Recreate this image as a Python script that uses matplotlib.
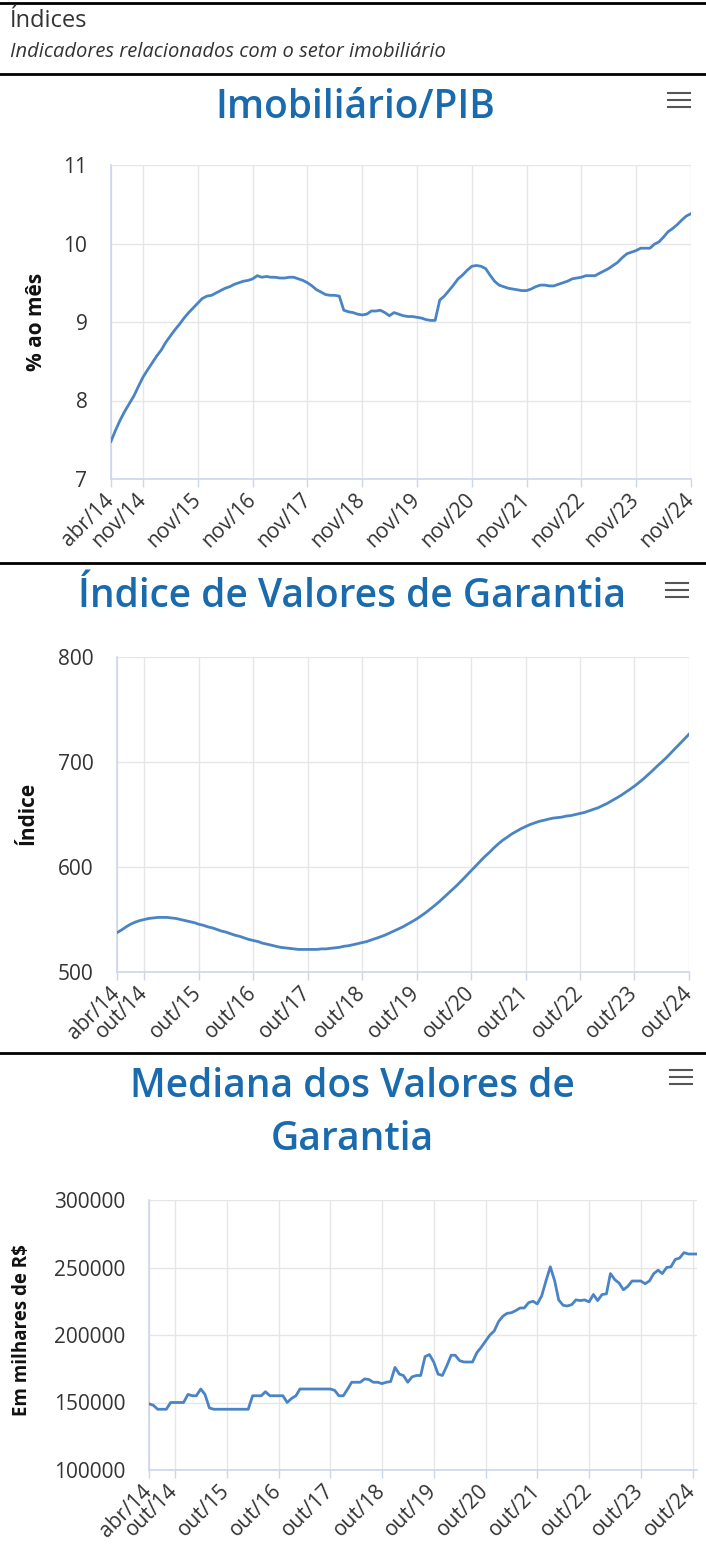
import matplotlib
matplotlib.use('Agg')
import matplotlib.pyplot as plt
import pandas as pd
from matplotlib.lines import Line2D

W, H = 706, 1545

# Imobiliario/PIB, monthly abr/14 .. nov/24
pib_values = [
    7.48, 7.62, 7.75, 7.86, 7.96, 8.06, 8.18, 8.30, 8.39, 8.48, 8.57, 8.64,
    8.74, 8.82, 8.90, 8.97, 9.05, 9.12, 9.18, 9.24, 9.30, 9.33, 9.34, 9.37,
    9.40, 9.43, 9.45, 9.48, 9.50, 9.52, 9.53, 9.55, 9.59, 9.57, 9.58, 9.57,
    9.57, 9.56, 9.56, 9.57, 9.57, 9.55, 9.53, 9.50, 9.46, 9.41, 9.38, 9.35,
    9.34, 9.34, 9.33, 9.15, 9.13, 9.12, 9.10, 9.09, 9.10, 9.14, 9.14, 9.15,
    9.12, 9.08, 9.12, 9.10, 9.08, 9.07, 9.07, 9.06, 9.05, 9.03, 9.02, 9.02,
    9.28, 9.33, 9.40, 9.47, 9.55, 9.60, 9.66, 9.71, 9.72, 9.71, 9.68, 9.60,
    9.52, 9.47, 9.45, 9.43, 9.42, 9.41, 9.40, 9.40, 9.42, 9.45, 9.47, 9.47,
    9.46, 9.46, 9.48, 9.50, 9.52, 9.55, 9.56, 9.57, 9.59, 9.59, 9.59, 9.62,
    9.65, 9.68, 9.72, 9.76, 9.82, 9.87, 9.89, 9.91, 9.94, 9.94, 9.94, 9.99,
    10.02, 10.08, 10.15, 10.19, 10.24, 10.30, 10.35, 10.38,
]
pib_ticks = ['abr/14', 'nov/14', 'nov/15', 'nov/16', 'nov/17', 'nov/18', 'nov/19',
             'nov/20', 'nov/21', 'nov/22', 'nov/23', 'nov/24']
pib_yticks = [7, 8, 9, 10, 11]

# Indice de Valores de Garantia, monthly abr/14 .. out/24
ivg_values = [
    537.5, 540, 543, 545.5, 547.5, 549, 550, 551, 551.5, 552, 552, 552,
    551.5, 551, 550, 549, 548, 547, 545.5, 544.5, 543, 542, 540.5, 539,
    538, 536.5, 535, 534, 532.5, 531, 530, 529, 527.5, 526.5, 525.5, 524.5,
    523.5, 523, 522.5, 522, 521.5, 521.5, 521.5, 521.5, 521.5, 522, 522, 522.5,
    523, 523.5, 524.5, 525, 526, 527, 528, 529, 530.5, 532, 533.5, 535,
    537, 539, 541, 543, 545.5, 548, 550.5, 553.5, 556.5, 560, 563.5, 567,
    571, 575, 579, 583, 587.5, 592, 596.5, 601, 605.5, 610, 614, 618,
    622, 625.5, 628.5, 631.5, 634, 636.5, 638.5, 640.5, 642, 643.5, 644.5, 645.5,
    646.5, 647, 647.5, 648.5, 649, 650, 651, 652, 653.5, 655, 656.5, 658.5,
    660.5, 663, 665.5, 668, 671, 674, 677, 680.5, 684, 688, 692, 696,
    700, 704, 708.5, 713, 717.5, 722, 726.5,
]
ivg_ticks = ['abr/14', 'out/14', 'out/15', 'out/16', 'out/17', 'out/18', 'out/19',
             'out/20', 'out/21', 'out/22', 'out/23', 'out/24']
ivg_yticks = [500, 600, 700, 800]

# Mediana dos Valores de Garantia, monthly abr/14 .. nov/24
mvg_values = [
    149000, 148000, 145000, 145000, 145000, 150000, 150000, 150000, 150000, 156000, 155000, 155000,
    160000, 156000, 146000, 145000, 145000, 145000, 145000, 145000, 145000, 145000, 145000, 145000,
    155000, 155000, 155000, 158000, 155000, 155000, 155000, 155000, 150000, 153000, 155000, 160000,
    160000, 160000, 160000, 160000, 160000, 160000, 160000, 159000, 155000, 155000, 160000, 165000,
    165000, 165000, 167500, 167000, 165000, 165000, 164000, 165000, 165500, 176000, 171000, 170000,
    165000, 169000, 170000, 170000, 184000, 185500, 180000, 171000, 170000, 177000, 185000, 185000,
    181000, 180000, 180000, 180000, 187000, 191000, 195500, 200000, 203000, 210000, 214000, 216000,
    216500, 218000, 220000, 220000, 224000, 225000, 223000, 229000, 240000, 250500, 240000, 226000,
    222000, 221500, 222500, 226000, 225500, 226000, 224500, 230000, 225500, 230000, 230500, 245500,
    241000, 238500, 233500, 236000, 240000, 240000, 240000, 238000, 240000, 245500, 248000, 245500,
    250000, 250500, 256000, 257000, 261000, 260000, 260000, 260000,
]
mvg_ticks = ivg_ticks
mvg_yticks = [100000, 150000, 200000, 250000, 300000]

MESES = {'jan': 1, 'fev': 2, 'mar': 3, 'abr': 4, 'mai': 5, 'jun': 6,
         'jul': 7, 'ago': 8, 'set': 9, 'out': 10, 'nov': 11, 'dez': 12}


def label_date(lbl):
    m, y = lbl.split('/')
    return pd.Timestamp(2000 + int(y), MESES[m], 1)


plt.rcParams['font.family'] = ['Open Sans', 'DejaVu Sans']

LINE = '#4a84c4'
TITLE = '#1a6aae'
GRID = '#e6e6e6'
AXIS = '#ccd6eb'
TXT = '#333333'

fig = plt.figure(figsize=(W / 100, H / 100), dpi=100)


def fx(x):
    return x / W


def fy(y):
    return 1 - y / H


def hline(y, x0=0, x1=W, lw=2.0, color='black'):
    fig.add_artist(Line2D([fx(x0), fx(x1)], [fy(y), fy(y)], color=color, lw=lw,
                          transform=fig.transFigure))


def menu(xc, yc):
    for dy in (-7, 0, 7):
        hline(yc + dy, xc - 11, xc + 11, lw=1.5, color='#555555')


def title(x, y, s):
    fig.text(fx(x), fy(y), s, fontsize=28, fontweight='semibold', color=TITLE,
             ha='center', va='center')


def panel(box, values, ticks, yticks, ylabel, ylab_pos, ylab_size):
    left, top, right, bottom = box
    ax = fig.add_axes([fx(left), fy(bottom), (right - left) / W, (bottom - top) / H])
    dates = pd.date_range(label_date(ticks[0]), periods=len(values), freq='MS')
    ax.plot(dates, values, color=LINE, lw=2.0, solid_joinstyle='round', zorder=3)
    ax.set_xlim(dates[0], dates[-1])
    ax.set_ylim(yticks[0], yticks[-1])
    ax.set_yticks(yticks)
    ax.set_yticklabels([str(v) for v in yticks])
    ax.set_xticks([label_date(t) for t in ticks])
    ax.set_xticklabels(ticks, rotation=45, ha='right', va='center', rotation_mode='anchor')
    ax.grid(True, color=GRID, lw=1, zorder=0)
    ax.set_axisbelow(True)
    for s in ('top', 'right'):
        ax.spines[s].set_visible(False)
    for s in ('left', 'bottom'):
        ax.spines[s].set_color(AXIS)
        ax.spines[s].set_linewidth(1.2)
    ax.tick_params(axis='x', length=6, width=1, color=AXIS, labelsize=15,
                   labelcolor=TXT, pad=7)
    ax.tick_params(axis='y', length=0, labelsize=15, labelcolor=TXT, pad=17)
    fig.text(fx(ylab_pos[0]), fy(ylab_pos[1]), ylabel, rotation=90, ha='center',
             va='center', fontsize=ylab_size, fontweight='bold', color='#111111')
    return ax


# header
hline(3, lw=2.0)
fig.text(fx(10), fy(21), 'Índices', fontsize=17, color=TXT, va='center')
fig.text(fx(10), fy(52), 'Indicadores relacionados com o setor imobiliário',
         fontsize=14.5, style='italic', color=TXT, va='center')
hline(74)

# chart 1
title(355, 108, 'Imobiliário/PIB')
menu(679, 100)
panel((111, 165, 691, 479), pib_values, pib_ticks, pib_yticks, '% ao mês', (37, 322), 15)
hline(563)

# chart 2
title(352, 597, 'Índice de Valores de Garantia')
menu(677, 590)
panel((117, 657, 689, 972), ivg_values, ivg_ticks, ivg_yticks, 'Índice', (28, 813), 15)
hline(1053)

# chart 3
title(352, 1087, 'Mediana dos Valores de')
title(352, 1140, 'Garantia')
menu(681, 1077)
panel((149, 1200, 697, 1470), mvg_values, mvg_ticks, mvg_yticks, 'Em milhares de R$',
      (22, 1330), 13.5)

fig.savefig('out.png', dpi=100)
